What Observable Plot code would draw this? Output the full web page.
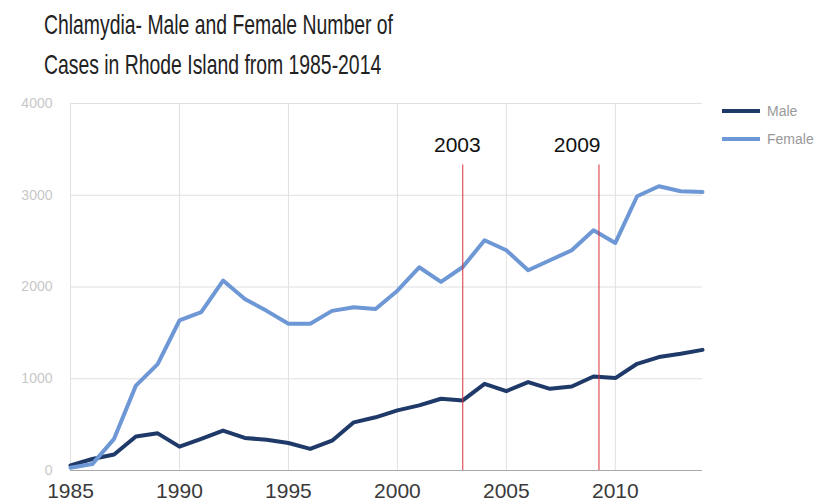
<!DOCTYPE html>
<html>
<head>
<meta charset="utf-8">
<script src="https://cdn.jsdelivr.net/npm/d3@7"></script>
<script src="https://cdn.jsdelivr.net/npm/@observablehq/plot@0.6"></script>
<style>
  html, body { margin: 0; padding: 0; background: #fff; }
  #wrap { position: relative; width: 830px; height: 502px; overflow: hidden; font-family: "Liberation Sans", Arial, sans-serif; }
  #title { position: absolute; left: 44px; top: 5px; font-size: 28px; line-height: 40px; color: #222; transform-origin: 0 0; white-space: nowrap; }
  #chart { position: absolute; left: 0; top: 95px; }
  #legend { position: absolute; left: 722px; top: 97px; font-size: 14px; color: #999; }
  .li { display: flex; align-items: center; height: 28px; }
  .sw { width: 38px; height: 4px; margin-right: 7px; }
</style>
</head>
<body>
<div id="wrap">
  <div id="title">Chlamydia- Male and Female Number of<br>Cases in Rhode Island from 1985-2014</div>
  <div id="chart"></div>
  <div id="legend"></div>
</div>
<script>
const years = d3.range(1985, 2015);
const male = [55,125,175,370,405,260,345,435,355,335,300,235,325,525,580,655,710,782,764,945,865,964,890,915,1025,1007,1163,1236,1272,1315];
const female = [30,70,345,925,1160,1635,1725,2070,1870,1740,1600,1600,1740,1780,1760,1960,2215,2055,2218,2509,2400,2182,2291,2400,2618,2480,2989,3098,3044,3036];
const seriesNames = ["Male", "Female"];
const seriesColors = ["#1f3a68", "#6e98d5"];
const xTicks = [1985, 1990, 1995, 2000, 2005, 2010];
const yTicks = [0, 1000, 2000, 3000, 4000];
const markerYears = [2003, 2009.25];
const markerLabels = ["2003", "2009"];
const markerLabelYears = [2002.75, 2008.25];
const markerTop = 3330;
const markerLabelY = 3540;

const rows = [];
years.forEach((y, i) => {
  rows.push({year: y, value: male[i], series: seriesNames[0]});
  rows.push({year: y, value: female[i], series: seriesNames[1]});
});
const markers = markerYears.map((y, i) => ({year: y, label: markerLabels[i], labelYear: markerLabelYears[i]}));

const chart = Plot.plot({
  width: 830,
  height: 407,
  marginLeft: 70,
  marginRight: 128,
  marginTop: 8,
  marginBottom: 32,
  style: {fontFamily: "'Liberation Sans', Arial, sans-serif", background: "transparent"},
  x: {domain: [1985, 2014]},
  y: {domain: [0, 4000]},
  color: {domain: seriesNames, range: seriesColors},
  marks: [
    Plot.ruleX(xTicks, {stroke: "#e0e0e0", strokeWidth: 1}),
    Plot.ruleY(yTicks.filter(d => d > 0), {stroke: "#e0e0e0", strokeWidth: 1}),
    Plot.ruleY([0], {stroke: "#a8a8a8", strokeWidth: 1.2}),
    Plot.axisX({ticks: xTicks, tickSize: 0, tickPadding: 13, fontSize: 21, fill: "#3a3a3a", tickFormat: d => String(d), label: null}),
    Plot.axisY({ticks: yTicks, tickSize: 0, tickPadding: 18, fontSize: 14, fill: "#c8c8c8", tickFormat: d => String(d), label: null}),
    Plot.line(rows, {x: "year", y: "value", z: "series", stroke: "series", strokeWidth: 4, strokeLinejoin: "round", strokeLinecap: "round"}),
    Plot.ruleX(markers, {x: "year", y1: 0, y2: markerTop, stroke: "#d8303a", strokeWidth: 1}),
    Plot.text(markers, {x: "labelYear", y: markerLabelY, text: "label", fontSize: 21, fill: "#111"})
  ]
});
document.getElementById("chart").appendChild(chart);

const legend = document.getElementById("legend");
seriesNames.forEach((n, i) => {
  const d = document.createElement("div");
  d.className = "li";
  d.innerHTML = `<span class="sw" style="background:${seriesColors[i]}"></span><span>${n}</span>`;
  legend.appendChild(d);
});

const t = document.getElementById("title");
const w = t.getBoundingClientRect().width;
t.style.transform = `scaleX(${349 / w})`;
</script>
</body>
</html>
